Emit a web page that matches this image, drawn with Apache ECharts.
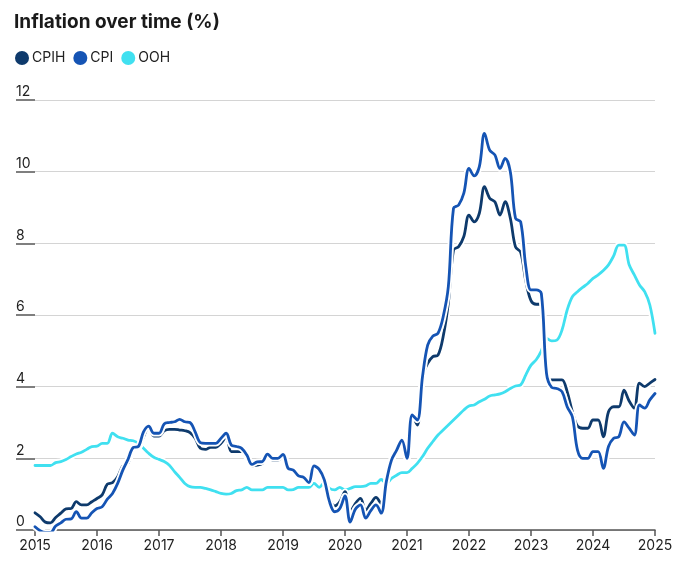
<!DOCTYPE html>
<html>
<head>
<meta charset="UTF-8">
<title>Inflation over time (%)</title>
<script src="https://cdn.jsdelivr.net/npm/echarts@6/dist/echarts.min.js"></script>
<style>
  html, body { margin: 0; padding: 0; background: #fff; }
  #chart { width: 680px; height: 564px; }
</style>
</head>
<body>
<div id="chart"></div>
<script>
// monthly readings, first point sits on 2015, last on 2025
var cpih = [0.48,0.37,0.22,0.2,0.35,0.47,0.59,0.6,0.79,0.7,0.7,0.79,
  0.88,0.98,1.28,1.32,1.49,1.79,1.86,2.28,2.3,2.6,2.88,2.62,
  2.62,2.77,2.81,2.81,2.79,2.77,2.72,2.56,2.28,2.25,2.31,2.31,
  2.42,2.6,2.19,2.19,2.19,2.03,1.79,1.81,1.86,2.07,1.95,1.95,
  2.07,1.72,1.67,1.51,1.47,1.32,1.79,1.69,1.4,0.88,0.67,0.79,
  1.07,0.5,0.74,0.88,0.54,0.74,0.91,0.74,1.35,1.95,2.23,2.51,
  2.0,3.21,2.93,4.28,4.65,4.84,4.88,5.4,6.33,7.81,7.91,8.19,
  8.79,8.6,8.84,9.58,9.26,9.16,8.79,9.16,8.7,7.9,7.75,6.95,
  6.4,6.3,6.3,4.25,4.19,4.19,4.19,3.86,3.3,2.9,2.84,2.84,
  3.07,3.07,2.6,3.3,3.44,3.44,3.9,3.6,3.4,4.1,4.0,4.1,
  4.2];
var cpi = [0.09,-0.02,-0.07,-0.07,0.11,0.2,0.3,0.31,0.51,0.33,0.33,0.48,
  0.6,0.65,0.86,1.02,1.3,1.67,1.97,2.3,2.33,2.74,2.9,2.7,
  2.7,2.96,3.0,3.02,3.09,3.02,3.0,2.74,2.44,2.42,2.42,2.42,
  2.56,2.7,2.37,2.33,2.28,2.09,1.83,1.9,1.91,2.12,2.0,2.0,
  2.11,1.72,1.67,1.51,1.47,1.32,1.79,1.69,1.4,0.79,0.51,0.6,
  0.95,0.22,0.58,0.7,0.33,0.54,0.7,0.47,1.35,1.95,2.23,2.51,
  2.0,3.21,3.07,4.28,5.16,5.41,5.49,5.95,6.79,8.98,9.07,9.4,
  10.09,9.88,10.14,11.07,10.6,10.47,10.09,10.37,10.0,8.7,8.6,7.35,
  6.7,6.7,6.6,4.37,3.98,3.95,3.86,3.44,3.16,2.23,2.0,2.0,
  2.19,2.19,1.72,2.33,2.56,2.6,3.02,2.84,2.65,3.49,3.4,3.63,
  3.81];
var ooh = [1.8,1.8,1.8,1.8,1.88,1.91,1.97,2.05,2.12,2.17,2.25,2.33,
  2.34,2.42,2.42,2.7,2.6,2.56,2.51,2.49,2.42,2.28,2.14,2.03,
  1.97,1.91,1.81,1.63,1.47,1.3,1.21,1.19,1.19,1.16,1.12,1.07,
  1.02,1.0,1.02,1.1,1.12,1.19,1.12,1.12,1.12,1.19,1.19,1.19,
  1.19,1.12,1.13,1.19,1.19,1.19,1.3,1.19,1.32,1.16,1.12,1.19,
  1.12,1.16,1.21,1.21,1.23,1.3,1.3,1.41,1.3,1.44,1.53,1.6,
  1.6,1.72,1.86,2.05,2.28,2.47,2.65,2.79,2.93,3.07,3.21,3.35,
  3.46,3.49,3.58,3.65,3.74,3.77,3.8,3.86,3.95,4.02,4.05,4.33,
  4.6,4.75,5.0,5.35,5.28,5.3,5.58,6.14,6.51,6.65,6.77,6.88,
  7.02,7.12,7.24,7.4,7.65,7.95,7.95,7.4,7.12,6.84,6.65,6.28,
  5.49];
var seriesNames = ['CPIH', 'CPI', 'OOH'];
var colors = ['#0e3a6c', '#1554b4', '#40e0f0'];
var startYear = 2015, endYear = 2025;

function pairs(arr) {
    var out = [];
    for (var i = 0; i < arr.length; i++) {
        out.push([startYear + i / 12, arr[i]]);
    }
    return out;
}

function lineSeries(name, arr, color, width, z) {
    return {
        name: name,
        type: 'line',
        data: pairs(arr),
        symbol: 'none',
        smooth: 0.35,
        silent: true,
        z: z,
        lineStyle: { color: color, width: width, cap: 'round', join: 'round' },
        itemStyle: { color: color }
    };
}

var myChart = echarts.init(document.getElementById('chart'));
var option = {
    animation: false,
    color: colors,
    title: {
        text: 'Inflation over time (%)',
        left: 9,
        top: 8,
        textStyle: { fontFamily: 'Inter', fontWeight: 700, fontSize: 19, color: '#1a1a1a' }
    },
    legend: {
        data: [
            { name: seriesNames[0], itemStyle: { color: colors[0] } },
            { name: seriesNames[1], itemStyle: { color: colors[1] } },
            { name: seriesNames[2], itemStyle: { color: colors[2] } }
        ],
        left: 10,
        top: 46,
        icon: 'circle',
        itemWidth: 14,
        itemHeight: 14,
        itemGap: 8,
        selectedMode: false,
        textStyle: { fontFamily: 'Inter', fontSize: 14, color: '#222', padding: [0, 0, 0, -2] }
    },
    grid: { left: 35, right: 25, top: 100, bottom: 34 },
    xAxis: {
        type: 'value',
        min: startYear,
        max: endYear,
        interval: 1,
        splitLine: { show: false },
        axisLine: { show: true, lineStyle: { color: '#555', width: 1.5 } },
        axisTick: { show: true, length: 6, lineStyle: { color: '#555', width: 1.5 } },
        axisLabel: {
            fontFamily: 'Inter', fontSize: 14, color: '#222', margin: 9,
            formatter: function (v) { return String(v); }
        }
    },
    yAxis: {
        type: 'value',
        min: 0,
        max: 12,
        interval: 2,
        axisLine: { show: false },
        axisTick: { show: true, length: 19, lineStyle: { color: '#555', width: 1.5 } },
        splitLine: { show: true, lineStyle: { color: '#d4d4d4', width: 1 } },
        axisLabel: {
            fontFamily: 'Inter', fontSize: 14, color: '#222',
            align: 'left', verticalAlign: 'bottom', margin: 19, padding: [0, 0, 1, 0]
        }
    },
    series: [
        lineSeries('ooh-halo', ooh, '#fff', 6.5, 2),
        lineSeries('OOH', ooh, colors[2], 2.8, 3),
        lineSeries('cpih-halo', cpih, '#fff', 6.5, 4),
        lineSeries('CPIH', cpih, colors[0], 2.8, 5),
        lineSeries('cpi-halo', cpi, '#fff', 6.5, 6),
        lineSeries('CPI', cpi, colors[1], 2.8, 7)
    ]
};
myChart.setOption(option);
</script>
</body>
</html>
